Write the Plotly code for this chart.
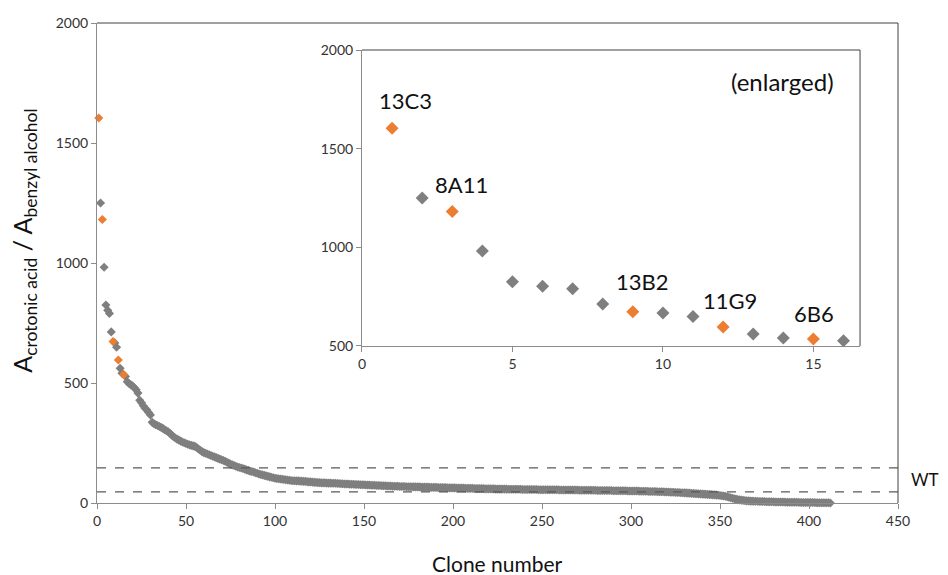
import plotly.graph_objects as go

# ratio A(crotonic acid) / A(benzyl alcohol) per clone, sorted high -> low
ratio = [
    1604, 1250, 1181, 982, 825, 803, 790, 713, 673, 667, 649, 596, 561, 541, 535, 527,
    505, 498, 492, 488, 480, 472, 458, 428, 418, 405, 395, 388, 377, 367,
    336, 330, 326, 323, 319, 315, 311, 305, 301, 297, 290, 283, 276, 271, 266, 262, 258, 254, 251, 248,
    245, 242, 240, 238, 236, 231, 225, 220, 214, 210, 207, 204, 201, 198, 195, 192, 189, 186, 183, 180,
    177, 174, 170, 166, 162, 159, 156, 153, 150, 148, 146, 144, 141, 138, 136, 133, 131, 129, 126, 124,
    121, 119, 117, 115, 113, 111, 109, 107, 105, 103, 102, 101, 100, 99, 98, 97, 96, 95, 94, 93,
    93, 92, 92, 91, 91, 90, 90, 89, 88, 88, 87, 86, 86, 85, 85, 84, 84, 84, 83, 83,
    83, 82, 82, 82, 81, 81, 80, 80, 79, 79, 79, 78, 78, 78, 77, 77, 77, 76, 76, 76,
    75, 75, 75, 74, 74, 74, 73, 73, 73, 72, 72, 72, 71, 71, 71, 70, 70, 70, 70, 69,
    69, 69, 69, 68, 68, 68, 68, 67, 67, 67, 67, 66, 66, 66, 66, 66, 65, 65, 65, 65,
    65, 64, 64, 64, 64, 64, 63, 63, 63, 63, 63, 62, 62, 62, 62, 62, 61, 61, 61, 61,
    61, 60, 60, 60, 60, 60, 60, 59, 59, 59, 59, 59, 59, 58, 58, 58, 58, 58, 58, 58,
    57, 57, 57, 57, 57, 57, 57, 57, 56, 56, 56, 56, 56, 56, 56, 56, 56, 55, 55, 55,
    55, 55, 55, 55, 55, 55, 55, 55, 55, 54, 54, 54, 54, 54, 54, 54, 54, 54, 54, 54,
    53, 53, 53, 53, 53, 53, 53, 53, 53, 53, 52, 52, 52, 52, 52, 52, 52, 52, 52, 51,
    51, 51, 51, 51, 51, 51, 51, 50, 50, 50, 50, 50, 50, 50, 49, 49, 49, 49, 49, 48,
    48, 48, 48, 48, 47, 47, 47, 47, 46, 46, 46, 45, 45, 45, 44, 44, 44, 43, 43, 42,
    42, 41, 41, 40, 40, 39, 39, 38, 38, 37, 37, 36, 36, 35, 35, 34, 34, 33, 32, 31,
    30, 29, 28, 26, 24, 22, 20, 18, 16, 14, 13, 12, 11, 10, 9, 9, 8, 8, 7, 7,
    7, 6, 6, 6, 6, 5, 5, 5, 5, 5, 4, 4, 4, 4, 4, 4, 3, 3, 3, 3,
    3, 3, 3, 3, 2, 2, 2, 2, 2, 2, 2, 2, 2, 1, 1, 1, 1, 1, 1, 1, 1, 0,
]
clone = list(range(1, len(ratio) + 1))

# highlighted clones (orange) and their names
hit_clone = [1, 3, 9, 12, 15]
hit_name = ["13C3", "8A11", "13B2", "11G9", "6B6"]
hit_label_x = [1.43, 3.30, 9.32, 12.23, 15.02]
hit_label_y = [1742, 1316, 826, 729, 666]

# wild-type range (dashed lines)
wt_bounds = [146, 46]

n_inset = 16

GRAY = "#7f7f7f"
ORANGE = "#ed7d31"
AXIS = "#8c8c8c"
FONT = "Lato"

inset_x = clone[:n_inset]
hit_y = [ratio[c - 1] for c in hit_clone]
gray_x = [c for c in inset_x if c not in hit_clone]
gray_y = [ratio[c - 1] for c in gray_x]

fig = go.Figure()

# main panel
main_gray = [c for c in clone if c not in hit_clone]
fig.add_trace(go.Scatter(
    x=main_gray, y=[ratio[c - 1] for c in main_gray], mode="markers",
    marker=dict(symbol="diamond", size=7, color=GRAY), cliponaxis=False,
    showlegend=False))
fig.add_trace(go.Scatter(
    x=hit_clone, y=hit_y, mode="markers",
    marker=dict(symbol="diamond", size=7, color=ORANGE), cliponaxis=False,
    showlegend=False))

# inset (enlarged)
fig.add_trace(go.Scatter(
    x=gray_x, y=gray_y, mode="markers", xaxis="x2", yaxis="y2",
    marker=dict(symbol="diamond", size=10, color=GRAY), cliponaxis=False,
    showlegend=False))
fig.add_trace(go.Scatter(
    x=hit_clone, y=hit_y, mode="markers", xaxis="x2", yaxis="y2",
    marker=dict(symbol="diamond", size=10, color=ORANGE), cliponaxis=False,
    showlegend=False))

for name, lx, ly in zip(hit_name, hit_label_x, hit_label_y):
    fig.add_annotation(x=lx, y=ly, xref="x2", yref="y2", text=name,
                       showarrow=False, font=dict(family=FONT, size=22, color="#111111"))
fig.add_annotation(x=13.97, y=1839, xref="x2", yref="y2", text="(enlarged)",
                   showarrow=False, font=dict(family=FONT, size=24, color="#111111"))

# WT dashed lines
for v in wt_bounds:
    fig.add_shape(type="line", xref="x", yref="y", x0=0, x1=450, y0=v, y1=v,
                  line=dict(color="#595959", width=1.3, dash="dash"))
fig.add_annotation(x=1.034, y=0.048, xref="paper", yref="paper", text="WT",
                   xanchor="center", yanchor="middle", showarrow=False,
                   font=dict(family=FONT, size=17, color="#111111"))

# frame lines (top/right) for both panels
for xr, yr in [("paper", "paper"), ("x2 domain", "y2 domain")]:
    fig.add_shape(type="line", xref=xr, yref=yr, x0=0, x1=1, y0=1, y1=1,
                  line=dict(color="#404040", width=1))
    fig.add_shape(type="line", xref=xr, yref=yr, x0=1, x1=1, y0=0, y1=1,
                  line=dict(color="#404040", width=1))

# y axis title
fig.add_annotation(
    x=-0.115, y=0.546, xref="paper", yref="paper", textangle=-90, showarrow=False,
    xanchor="left", yanchor="middle",
    text="A<sub>crotonic acid</sub> / A<sub>benzyl alcohol</sub>",
    font=dict(family=FONT, size=25, color="#111111"))

# x axis title
fig.add_annotation(
    x=0.5, y=-0.125, xref="paper", yref="paper", showarrow=False,
    xanchor="center", yanchor="middle",
    text="Clone number", font=dict(family=FONT, size=21, color="#111111"))

tick_font = dict(family=FONT, size=14, color="#333333")
axis_common = dict(showgrid=False, zeroline=False, showline=True, linecolor=AXIS,
                   ticks="outside", ticklen=5, tickcolor=AXIS, tickfont=tick_font,
                   automargin=False)
fig.update_layout(
    width=948, height=575,
    margin=dict(l=89, r=58, t=15, b=80),
    paper_bgcolor="white", plot_bgcolor="white",
    font=dict(family=FONT, color="#111111"),
    xaxis=dict(range=[0, 450], dtick=50, tick0=0, **axis_common),
    yaxis=dict(range=[0, 2000], dtick=500, **axis_common),
    xaxis2=dict(domain=[0.3308, 0.9526], anchor="y2", range=[0, 16.55], dtick=5, tick0=0,
                **axis_common),
    yaxis2=dict(domain=[0.3271, 0.94375], anchor="x2", range=[500, 2000], dtick=500,
                **axis_common),
)

fig.write_html("out.html")
